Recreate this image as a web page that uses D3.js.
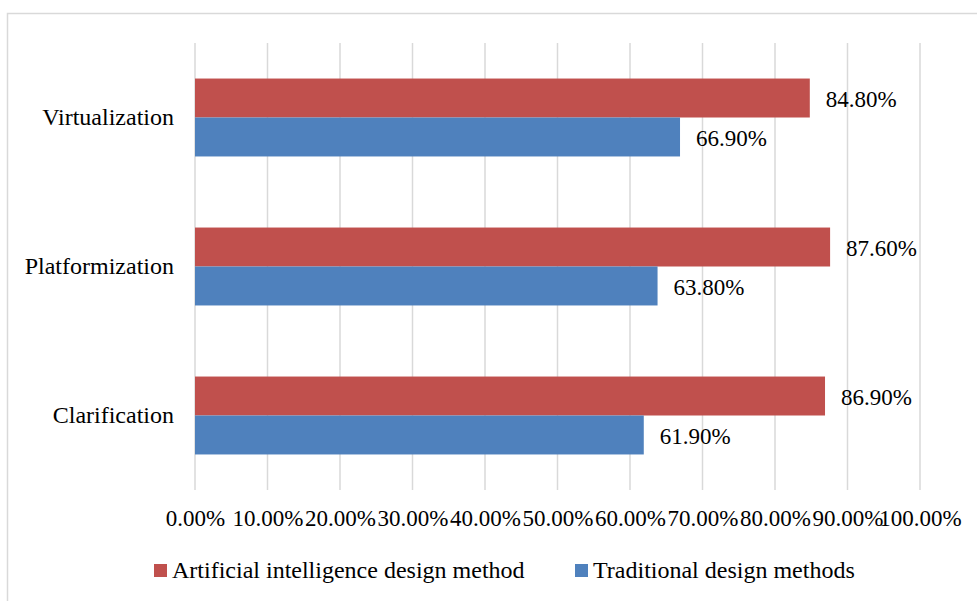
<!DOCTYPE html>
<html><head><meta charset="utf-8">
<script src="https://cdn.jsdelivr.net/npm/d3@7"></script>
</head><body style="margin:0;background:#fff">
<svg id="chart" width="977" height="601" font-family="Liberation Serif" style="display:block"></svg>
<script>
const categories = ["Virtualization", "Platformization", "Clarification"];
const seriesNames = ["Artificial intelligence design method", "Traditional design methods"];
const aiValues = [84.8, 87.6, 86.9];
const tradValues = [66.9, 63.8, 61.9];
const ticks = [0,10,20,30,40,50,60,70,80,90,100];
const colors = ["#C0504D", "#4F81BD"];

const svg = d3.select("#chart");
svg.append("rect").attr("x",7.5).attr("y",13.5).attr("width",1100).attr("height",1100)
  .attr("fill","none").attr("stroke","#d9d9d9").attr("stroke-width",1.5);

const x = d3.scaleLinear().domain([0,100]).range([195,920]);
const y = d3.scaleBand().domain(categories).range([43,490]).paddingInner(0.477).paddingOuter(0.2385);
const inner = d3.scaleBand().domain([0,1]).range([0, y.bandwidth()]);

// gridlines
svg.append("g").selectAll("line").data(ticks).join("line")
  .attr("x1", d=>x(d)).attr("x2", d=>x(d)).attr("y1",43).attr("y2",490)
  .attr("stroke","#d9d9d9").attr("stroke-width",1.5);

// x axis labels
const xAxis = d3.axisBottom(x).tickValues(ticks).tickSize(0).tickPadding(0)
  .tickFormat(d => d.toFixed(2) + "%");
const gx = svg.append("g").attr("transform","translate(0,510)").call(xAxis);
gx.select(".domain").remove();
gx.attr("font-family","Liberation Serif").attr("font-size",23);
gx.selectAll("text").attr("dy","0.71em").attr("fill","#000")
  .attr("font-family","Liberation Serif").attr("font-size",23);

// y labels
const yAxis = d3.axisLeft(y).tickSize(0).tickPadding(0);
const gy = svg.append("g").attr("transform","translate(174,0)").call(yAxis);
gy.select(".domain").remove();
gy.attr("font-family","Liberation Serif").attr("font-size",24);
gy.selectAll("text").attr("dy","0.33em").attr("fill","#000")
  .attr("font-family","Liberation Serif").attr("font-size",24);

const series = [aiValues, tradValues];
series.forEach((vals, si) => {
  const g = svg.append("g");
  g.selectAll("rect").data(categories).join("rect")
    .attr("x", x(0)).attr("y", (c)=>y(c)+inner(si))
    .attr("width", (c,i)=>x(vals[i])-x(0)).attr("height", inner.bandwidth())
    .attr("fill", colors[si]);
  g.selectAll("text").data(categories).join("text")
    .attr("x", (c,i)=>x(vals[i])+16).attr("y", (c)=>y(c)+inner(si)+inner.bandwidth()/2)
    .attr("dy","0.38em").attr("fill","#000")
    .attr("font-family","Liberation Serif").attr("font-size",23)
    .text((c,i)=>vals[i].toFixed(2)+"%");
});

// legend
const legX = [154, 575];
seriesNames.forEach((n, i) => {
  svg.append("rect").attr("x", legX[i]).attr("y",564).attr("width",13).attr("height",13).attr("fill",colors[i]);
  svg.append("text").attr("x", legX[i]+18).attr("y",578).attr("fill","#000")
    .attr("font-family","Liberation Serif").attr("font-size",24).text(n);
});
</script>
</body></html>
